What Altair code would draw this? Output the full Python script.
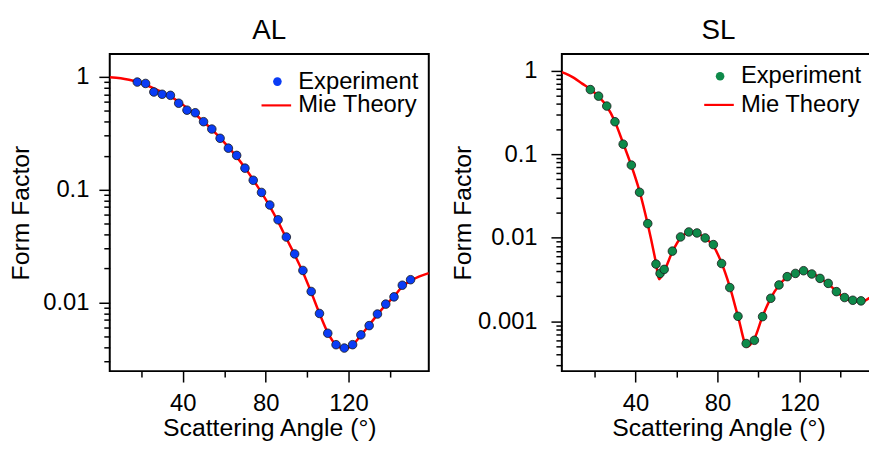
import altair as alt
import pandas as pd

# ---------------- data ----------------
al_angle = [18, 22, 26, 30, 34, 38, 42, 46, 50, 54, 58, 62, 66, 70, 74, 78, 82,
            86, 90, 94, 98, 102, 106, 110, 114, 118, 122, 126, 130, 134, 138,
            142, 146, 150]
al_exp = [0.898, 0.873, 0.733, 0.700, 0.685, 0.583, 0.506, 0.480, 0.400, 0.344,
          0.285, 0.233, 0.201, 0.155, 0.121, 0.0944, 0.073, 0.054, 0.038, 0.0269,
          0.0192, 0.0125, 0.00798, 0.00533, 0.00422, 0.00394, 0.00422, 0.00516,
          0.00623, 0.00789, 0.00966, 0.0112, 0.0142, 0.0159]

al_th_angle = [4.7, 10, 14, 18, 22, 26, 30, 34, 38, 42, 46, 50, 54, 58, 62, 66,
               70, 74, 78, 82, 86, 90, 94, 98, 102, 106, 110, 114, 118, 122, 126,
               130, 134, 138, 142, 146, 150, 154, 158.8]
al_th = [0.99, 0.97, 0.94, 0.90, 0.85, 0.79, 0.73, 0.67, 0.60, 0.53, 0.465, 0.40,
         0.342, 0.287, 0.238, 0.195, 0.156, 0.122, 0.094, 0.071, 0.052, 0.037,
         0.0265, 0.0185, 0.0123, 0.0080, 0.0054, 0.0042, 0.0039, 0.0042, 0.0051,
         0.0063, 0.0078, 0.0095, 0.0113, 0.0138, 0.0156, 0.0169, 0.0182]

sl_angle = [18, 22, 26, 30, 34, 38, 42, 46, 50, 52, 54, 58, 62, 66, 70, 74, 78,
            82, 86, 90, 94, 98, 102, 106, 110, 114, 118, 122, 126, 130, 134, 138,
            142, 146, 150]
sl_exp = [0.594, 0.496, 0.377, 0.245, 0.132, 0.0742, 0.0351, 0.0148, 0.00485,
          0.00375, 0.00419, 0.00693, 0.01025, 0.01175, 0.01143, 0.00997, 0.0083,
          0.00493, 0.00254, 0.00115, 0.000543, 0.000594, 0.00114, 0.00189,
          0.00273, 0.00343, 0.00375, 0.00404, 0.00369, 0.00327, 0.00285,
          0.00227, 0.00193, 0.00179, 0.00176]

sl_th_angle = [4.1, 10, 14, 18, 22, 26, 30, 34, 38, 42, 46, 50, 51.5, 54, 58, 62,
               66, 70, 74, 78, 82, 86, 90, 94.5, 98, 102, 106, 110, 114, 118, 122,
               126, 130, 134, 138, 142, 146, 150, 154, 158.7]
sl_th = [0.96, 0.82, 0.70, 0.60, 0.49, 0.375, 0.245, 0.135, 0.073, 0.036, 0.0145,
         0.0050, 0.0032, 0.0040, 0.0068, 0.0100, 0.0115, 0.0113, 0.0099, 0.0080,
         0.0050, 0.0026, 0.00115, 0.00050, 0.00062, 0.00115, 0.0019, 0.0027,
         0.0034, 0.0038, 0.0040, 0.0038, 0.0033, 0.0028, 0.0023, 0.0019, 0.00175,
         0.00172, 0.0019, 0.0024]

x_ticks = [20, 40, 60, 80, 100, 120, 140]
al_y_ticks = [m * 10.0 ** e for e in (-3, -2, -1) for m in range(1, 10)
              if m * 10.0 ** e >= 0.0029] + [1.0]
sl_y_ticks = [m * 10.0 ** e for e in (-4, -3, -2, -1) for m in range(1, 10)
              if m * 10.0 ** e >= 0.00029] + [1.0]

series = ["Experiment", "Mie Theory"]

FONT = "Liberation Sans"
MAJOR_Y = "abs(log(datum.value)/LN10 - round(log(datum.value)/LN10)) < 0.001"
MAJOR_X = "datum.value % 40 == 0"
PT_SIZE = 75
LINE_PATH = "M-3.7,-0.25L3.2,-0.25L3.2,0.25L-3.7,0.25Z"


def panel(title, angle, exp, th_angle, th, color, x_dom, y_dom, y_ticks, width,
          lx, ly, row_pad, y_lab_pad, y_title_pad):
    exp_df = pd.DataFrame({"angle": angle, "ff": exp, "series": "Experiment"})
    th_df = pd.DataFrame({"angle": th_angle, "ff": th})

    common = dict(labelFont=FONT, labelFontSize=24, labelColor="black",
                  titleFont=FONT, titleFontSize=25, titleFontWeight="normal",
                  titleColor="black", tickColor="black", tickWidth=1.5,
                  grid=False, domain=False, labelOverlap=False)
    x = alt.X("angle:Q",
              scale=alt.Scale(domain=x_dom, nice=False, zero=False),
              axis=alt.Axis(values=x_ticks, title="Scattering Angle (°)",
                            labelExpr=f"{MAJOR_X} ? datum.label : ''",
                            tickSize={"condition": {"test": MAJOR_X, "value": 11}, "value": 6},
                            labelPadding=10, titlePadding=0, **common))
    y = alt.Y("ff:Q",
              scale=alt.Scale(type="log", domain=y_dom, nice=False),
              axis=alt.Axis(values=y_ticks, title="Form Factor", format="~g",
                            labelExpr=f"{MAJOR_Y} ? datum.label : ''",
                            tickSize={"condition": {"test": MAJOR_Y, "value": 11}, "value": 6},
                            labelPadding=y_lab_pad, titlePadding=y_title_pad, **common))

    line = alt.Chart(th_df).mark_line(color="#ff0000", strokeWidth=2.5, clip=True,
                                      interpolate="monotone").encode(
        x=alt.X("angle:Q", scale=alt.Scale(domain=x_dom, nice=False, zero=False)),
        y=alt.Y("ff:Q", scale=alt.Scale(type="log", domain=y_dom, nice=False)))

    legend = alt.Legend(title=None, orient="none", legendX=lx, legendY=ly,
                        labelFont=FONT, labelFontSize=24, labelColor="black",
                        symbolSize=PT_SIZE, symbolStrokeWidth=0, labelOffset=9,
                        rowPadding=row_pad, padding=0)
    pts = alt.Chart(exp_df).mark_point(filled=True, size=PT_SIZE, opacity=1,
                                       stroke="#1a1a1a", strokeWidth=0.8).encode(
        x=x, y=y,
        fill=alt.Fill("series:N", scale=alt.Scale(domain=series, range=[color, "#ff0000"]),
                      legend=legend),
        shape=alt.Shape("series:N", scale=alt.Scale(domain=series, range=["circle", LINE_PATH]),
                        legend=legend))

    return alt.layer(line, pts).properties(
        width=width, height=320,
        title=alt.TitleParams(title, font=FONT, fontSize=28, fontWeight="normal",
                              color="black", offset=9.5))


left = panel("AL", al_angle, al_exp, al_th_angle, al_th, "#0a3cf5",
             [4.7, 158.8], [0.00246, 1.59], al_y_ticks, 322,
             157.2, 15.8, 0, 10, 9)
right = panel("SL", sl_angle, sl_exp, sl_th_angle, sl_th, "#0e8a4a",
              [4.1, 156.8], [0.000254, 1.58], sl_y_ticks, 316,
              147.7, 10.3, 5, 14, 2.3)

chart = alt.hconcat(left, right, spacing=19.3).resolve_scale(
    x="independent", y="independent", fill="independent", shape="independent"
).resolve_legend(fill="independent", shape="independent").configure_view(
    stroke="black", strokeWidth=2
).properties(background="white",
             autosize=alt.AutoSizeParams(type="none"),
             padding={"left": 102.7, "top": 43, "right": 766.3, "bottom": 391})

chart.save("out.html", embed_options={"renderer": "svg", "actions": False})
